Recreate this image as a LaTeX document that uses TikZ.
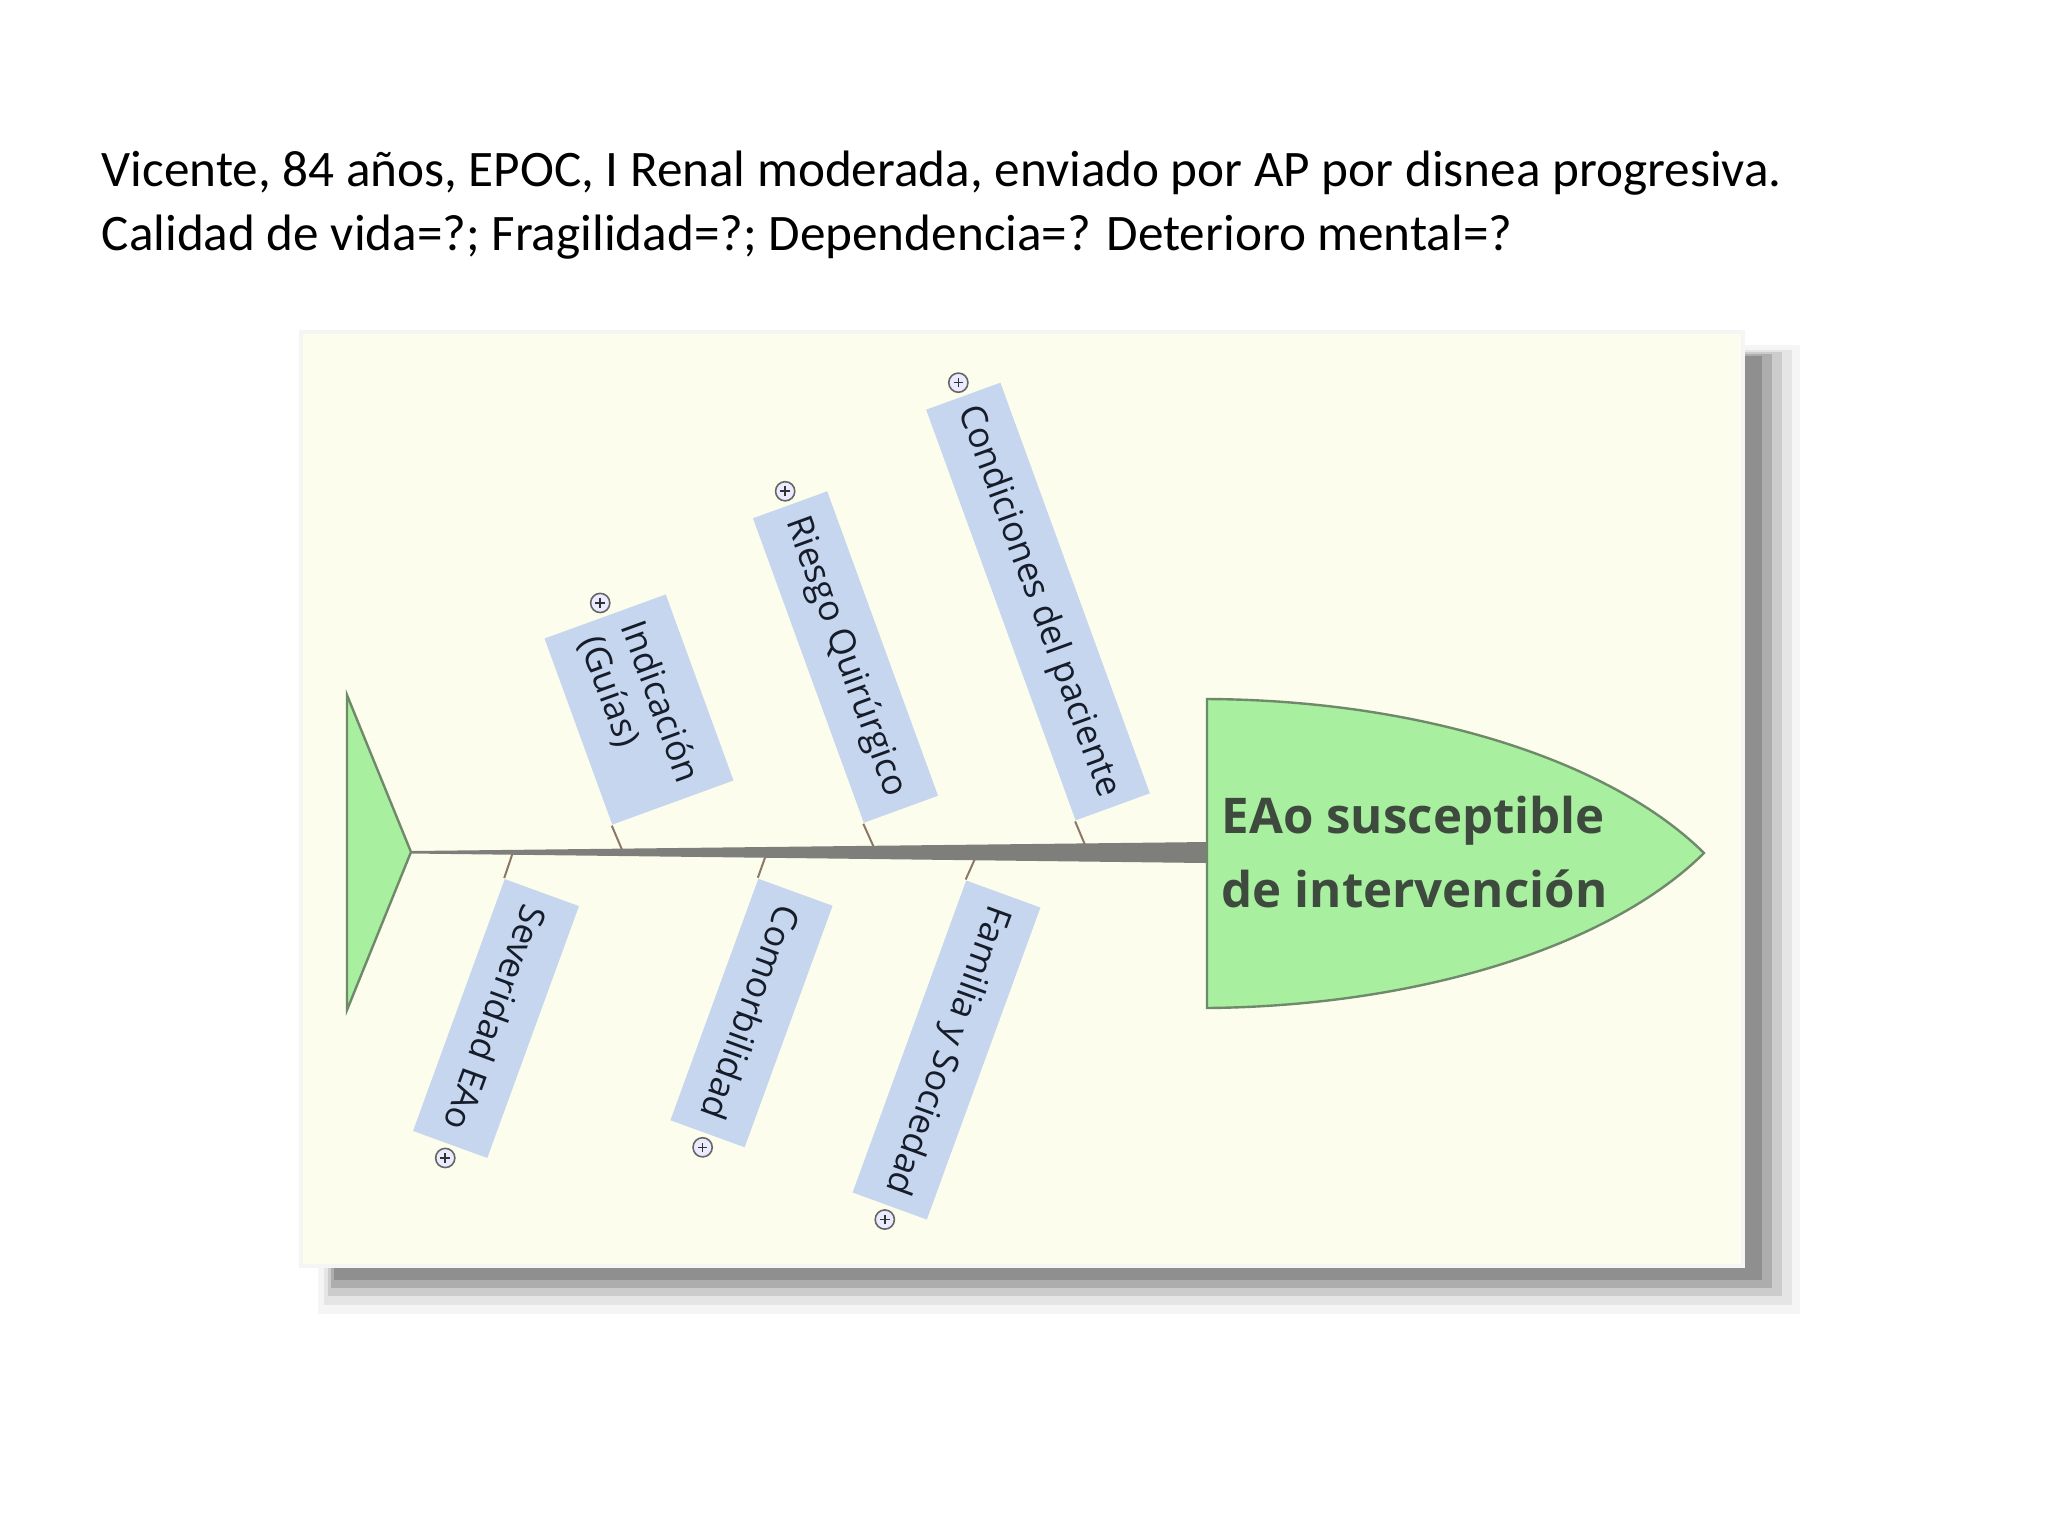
\documentclass[tikz,border=0pt]{standalone}
\usepackage{fontspec}
\setmainfont{Carlito}
\newfontfamily\boxfont{Open Sans}
\usetikzlibrary{calc}
\definecolor{panelbg}{HTML}{FCFDEC}
\definecolor{boxblue}{HTML}{C5D6EE}
\definecolor{fishgreen}{HTML}{A8EFA0}
\definecolor{fishedge}{HTML}{6E8A6A}
\definecolor{spinegray}{HTML}{7E7E7A}
\definecolor{ribcol}{HTML}{8C7866}
\definecolor{headtext}{HTML}{3D4A3D}
\definecolor{boxtext}{HTML}{161C2A}
\begin{document}
\begin{tikzpicture}[x=0.25pt,y=-0.25pt,
  cause/.style={fill=boxblue, inner sep=0pt, minimum height=19.75pt, text=boxtext,
    font=\boxfont\fontsize{8.9}{11}\selectfont, align=left},
  upcause/.style={cause, rotate=-70},
  lowcause/.style={cause, rotate=-110},
  plusicon/.style={circle, draw=black!60, fill=white!92!blue, line width=0.4pt, minimum size=4.8pt, inner sep=0pt,
    path picture={\draw[black!80, line width=0.4pt]
      ([xshift=-1.2pt]path picture bounding box.center) -- ([xshift=1.2pt]path picture bounding box.center)
      ([yshift=-1.2pt]path picture bounding box.center) -- ([yshift=1.2pt]path picture bounding box.center);}},
  rib/.style={draw=ribcol, line width=0.5pt},
  titletext/.style={anchor=base west, inner sep=0pt, font=\fontsize{12.8}{15}\selectfont}]
\useasboundingbox (0,0) rectangle (2048,1536);
\fill[white] (0,0) rectangle (2048,1536);
% title
\node[titletext] (t1) at (101,186) {Vicente, 84 años, EPOC, I Renal moderada, enviado por AP por disnea progresiva.};
\node[titletext] (t2) at (101,250) {Calidad de vida=?; Fragilidad=?; Dependencia=? Deterioro mental=?};
% shadow
\fill[black!4] (318,345) rectangle (1800,1314);
\fill[black!10] (324,350) rectangle (1792,1305);
\fill[black!20] (328,352) rectangle (1782,1296);
\fill[black!32] (331,354) rectangle (1772,1288);
\fill[black!44] (334,356) rectangle (1762,1280);
% panel
\fill[black!4] (299,330) rectangle (1745,1268);
\fill[panelbg] (303,334) rectangle (1741,1264);
% spine attach points
\coordinate (sInd) at (623,852);
\coordinate (sRie) at (876,852);
\coordinate (sCon) at (1088,852);
\coordinate (sSev) at (513,852);
\coordinate (sCom) at (767,852);
\coordinate (sFam) at (978,852);
% cause boxes
\node[upcause, minimum width=49.5pt, minimum height=32.25pt] (ind) at (639,709.5) {Indicación\\(Guías)};
\node[upcause, minimum width=81pt] (rie) at (845.5,657) {Riesgo Quirúrgico};
\node[upcause, minimum width=109.25pt] (con) at (1038,601.5) {Condiciones del paciente};
\node[lowcause, minimum width=67pt] (sev) at (496,1018.5) {Severidad EAo};
\node[lowcause, minimum width=64.25pt] (com) at (751.5,1013) {Comorbilidad};
\node[lowcause, minimum width=83pt] (fam) at (946.5,1050) {Familia y Sociedad};
% ribs
\draw[rib] (ind.south east) -- (sInd);
\draw[rib] (rie.south east) -- (sRie);
\draw[rib] (con.south east) -- (sCon);
\draw[rib] (sev.south west) -- (sSev);
\draw[rib] (com.south west) -- (sCom);
\draw[rib] (fam.south west) -- (sFam);
% spine
\coordinate (tailapex) at (411,852);
\coordinate (headback) at (1207,852);
\fill[spinegray] (411,851) -- (1207,842) -- (1207,863) -- (411,853.5) -- cycle;
% tail
\draw[fishedge, fill=fishgreen, line width=0.6pt] (347,695) -- (tailapex) -- (347,1010) -- cycle;
% head
\draw[fishedge, fill=fishgreen, line width=0.6pt] (1207,699) .. controls (1420,700) and (1610,760) .. (1704,853)
  .. controls (1610,946) and (1420,1006) .. (1207,1008) -- cycle;
\node[anchor=west, align=left, inner sep=0pt, text=headtext,
  font=\boxfont\bfseries\fontsize{12.3}{18.3}\selectfont] (head) at (1221,852) {EAo susceptible\\de intervención};
% plus icons
\node[plusicon] (pInd) at ($(ind.west)!-3.4pt!(ind.east)$) {};
\node[plusicon] (pRie) at ($(rie.west)!-3.4pt!(rie.east)$) {};
\node[plusicon] (pCon) at ($(con.west)!-3.4pt!(con.east)$) {};
\node[plusicon] (pSev) at ($(sev.east)!-3.4pt!(sev.west)$) {};
\node[plusicon] (pCom) at ($(com.east)!-3.4pt!(com.west)$) {};
\node[plusicon] (pFam) at ($(fam.east)!-3.4pt!(fam.west)$) {};
\end{tikzpicture}
\end{document}
